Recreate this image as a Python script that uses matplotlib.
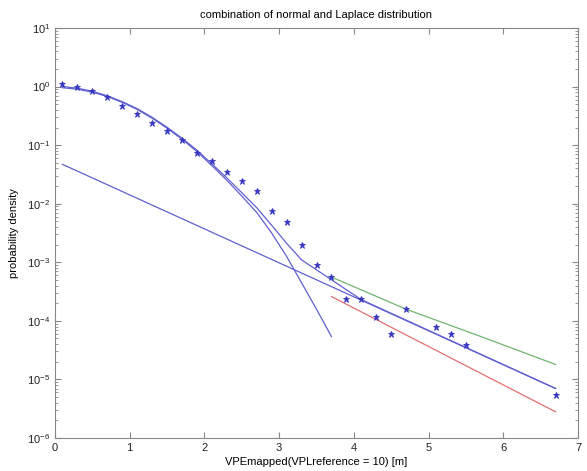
import matplotlib
matplotlib.use("Agg")
import matplotlib.pyplot as plt
import numpy as np
from matplotlib.ticker import LogLocator, FixedLocator, NullFormatter

plt.rcParams['font.family'] = ['Liberation Sans', 'DejaVu Sans']
plt.rcParams['mathtext.fontset'] = 'custom'
plt.rcParams['mathtext.rm'] = 'Liberation Sans'
plt.rcParams['mathtext.it'] = 'Liberation Sans'
plt.rcParams['axes.unicode_minus'] = False

# measured data (stars)
data_x = [0.1, 0.3, 0.5, 0.7, 0.9, 1.1, 1.3, 1.5, 1.7, 1.9, 2.1, 2.3, 2.5, 2.7,
          2.9, 3.1, 3.3, 3.5, 3.7, 3.9, 4.1, 4.3, 4.5, 4.7, 5.1, 5.3, 5.5, 6.7]
data_y = [1.1, 0.97, 0.84, 0.67, 0.46, 0.336, 0.236, 0.175, 0.123, 0.072, 0.053,
          0.035, 0.0248, 0.0166, 0.0076, 0.0048, 0.0020, 0.00091, 0.00055,
          0.00024, 0.00024, 0.000118, 6.0e-5, 1.6e-4, 7.9e-5, 6.0e-5, 3.9e-5, 5.5e-6]

# normal component
normal_x = [0.1, 0.3, 0.5, 0.7, 0.9, 1.1, 1.3, 1.5, 1.7, 1.9, 2.1, 2.3, 2.5, 2.7,
            2.9, 3.1, 3.3, 3.5, 3.7]
normal_y = [0.955, 0.902, 0.803, 0.676, 0.537, 0.407, 0.288, 0.195, 0.126, 0.0776,
            0.0447, 0.0251, 0.0135, 0.00708, 0.00316, 0.00126, 4.47e-4, 1.58e-4, 5.4e-5]

# Laplace component
laplace_x = [0.1, 6.7]
laplace_y = [0.047, 7.0e-6]

# combined fit
comb_x = [0.1, 0.3, 0.5, 0.7, 0.9, 1.1, 1.3, 1.5, 1.7, 1.9, 2.1, 2.3, 2.5, 2.7,
          2.9, 3.1, 3.3, 4.1, 6.7]
comb_y = [1.002, 0.938, 0.831, 0.697, 0.553, 0.420, 0.298, 0.202, 0.1315, 0.0818,
          0.0479, 0.0276, 0.0154, 0.00854, 0.00428, 0.00211, 0.0011, 2.3e-4, 7.0e-6]

# upper (green) and lower (red) tail lines
upper_x = [3.7, 4.7, 5.7, 6.7]
upper_y = [5.6e-4, 1.58e-4, 5.4e-5, 1.8e-5]
lower_x = [3.7, 6.7]
lower_y = [2.6e-4, 2.8e-6]

fig = plt.figure(figsize=(5.87, 4.71), dpi=100)
ax = fig.add_axes([55/587, 1-438/471, (578-55)/587, (438-28)/471])

blue = '#6060d0'
ax.plot(laplace_x, laplace_y, color=blue, lw=0.9)
ax.plot(normal_x, normal_y, color=blue, lw=0.9)
ax.plot(comb_x, comb_y, color=blue, lw=0.9)
ax.plot(upper_x, upper_y, color='#6fb46f', lw=0.9)
ax.plot(lower_x, lower_y, color='#e07070', lw=0.9)
ax.plot(data_x, data_y, linestyle='none', marker='*', color='#3535c0', ms=5,
        markeredgewidth=0.6)

ax.set_yscale('log')
ax.set_xlim(0, 7)
ax.set_ylim(1e-6, 1e1)
ax.xaxis.set_major_locator(FixedLocator([0, 1, 2, 3, 4, 5, 6, 7]))
ax.yaxis.set_major_locator(LogLocator(base=10, numticks=10))
ax.yaxis.set_minor_locator(LogLocator(base=10, subs=np.arange(2, 10), numticks=20))
ax.yaxis.set_minor_formatter(NullFormatter())

axcol = '#888888'
for s in ax.spines.values():
    s.set_color(axcol)
    s.set_linewidth(0.8)
ax.tick_params(which='both', direction='in', top=True, right=True, color=axcol,
               labelsize=8, labelcolor='#222222')
ax.tick_params(which='major', length=4)
ax.tick_params(which='minor', length=2)

ax.set_title('combination of normal and Laplace distribution', fontsize=8, pad=7)
ax.set_xlabel('VPEmapped(VPLreference = 10) [m]', fontsize=8, labelpad=3)
ax.set_ylabel('probability density', fontsize=8, labelpad=6)

fig.savefig('out.png', dpi=100)
